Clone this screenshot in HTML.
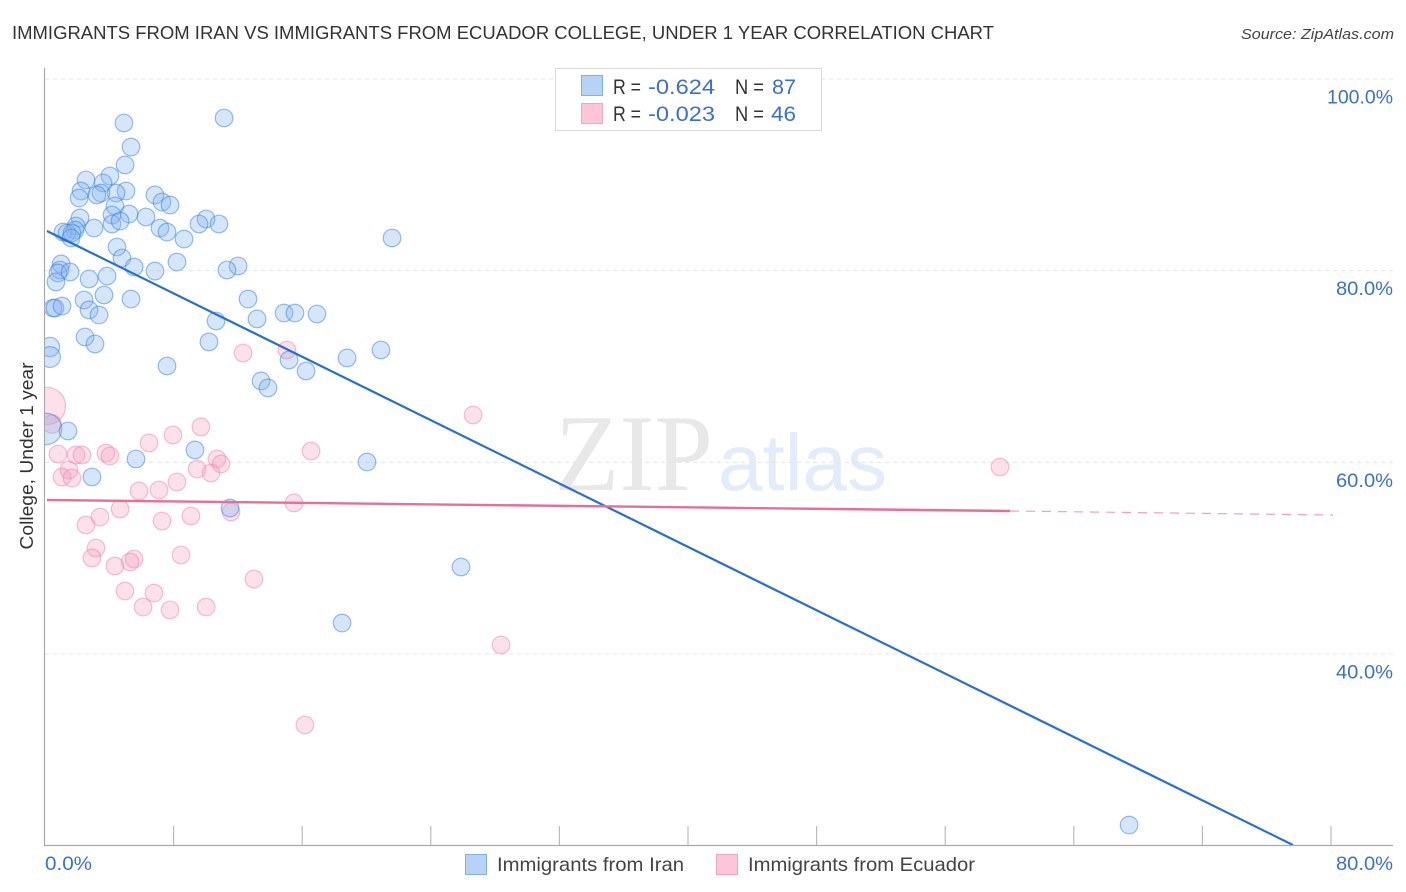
<!DOCTYPE html>
<html lang="en">
<head>
<meta charset="utf-8">
<title>Immigrants from Iran vs Immigrants from Ecuador College, Under 1 Year Correlation Chart</title>
<style>
html,body{margin:0;padding:0;background:#fff;width:1406px;height:892px;overflow:hidden}
svg{display:block;font-family:"Liberation Sans",sans-serif}
</style>
</head>
<body>
<svg id="chart" xmlns="http://www.w3.org/2000/svg" width="1406" height="892" viewBox="0 0 1406 892">
  <defs>
    <clipPath id="plot-clip"><rect x="45" y="60" width="1350" height="785"/></clipPath>
  </defs>
  <text x="12" y="39" font-size="18.6" fill="#333" textLength="982" lengthAdjust="spacingAndGlyphs">IMMIGRANTS FROM IRAN VS IMMIGRANTS FROM ECUADOR COLLEGE, UNDER 1 YEAR CORRELATION CHART</text>
  <text x="1241" y="39" font-size="15" font-style="italic" fill="#444" textLength="153" lengthAdjust="spacingAndGlyphs">Source: ZipAtlas.com</text>
  <g>
    <text x="555" y="490" font-family="'Liberation Serif',serif" font-size="109" fill="#e8e8e8" textLength="158" lengthAdjust="spacingAndGlyphs">ZIP</text>
    <text x="718" y="490" font-size="80" fill="#e2ecfa" textLength="169" lengthAdjust="spacingAndGlyphs">atlas</text>
  </g>
  <g id="grid"></g>
  <g id="points-ecuador" clip-path="url(#plot-clip)"></g>
  <g id="points-iran" clip-path="url(#plot-clip)"></g>
  <g id="trends"></g>
  <g id="axes"></g>
  <text transform="translate(33,456) rotate(-90)" text-anchor="middle" font-size="18.5" fill="#333" textLength="187" lengthAdjust="spacingAndGlyphs">College, Under 1 year</text>

  <g>
    <rect x="555.5" y="68.5" width="266" height="62" fill="#fff" stroke="#d9d9d9" stroke-width="1"/>
    <rect x="581.5" y="75.5" width="21" height="20" fill="#b7d2f7" stroke="#7fb0ec"/>
    <rect x="581.5" y="103.5" width="21" height="20" fill="#fcc5d8" stroke="#f2a5bf"/>
    <g font-size="21">
      <text x="613" y="94" fill="#333" textLength="28" lengthAdjust="spacingAndGlyphs">R =</text>
      <text x="648" y="94" fill="#3a70d2" textLength="67" lengthAdjust="spacingAndGlyphs">-0.624</text>
      <text x="735" y="94" fill="#333" textLength="29" lengthAdjust="spacingAndGlyphs">N =</text>
      <text x="772" y="94" fill="#3a70d2" textLength="24" lengthAdjust="spacingAndGlyphs">87</text>
      <text x="613" y="121" fill="#333" textLength="28" lengthAdjust="spacingAndGlyphs">R =</text>
      <text x="648" y="121" fill="#3a70d2" textLength="67" lengthAdjust="spacingAndGlyphs">-0.023</text>
      <text x="735" y="121" fill="#333" textLength="29" lengthAdjust="spacingAndGlyphs">N =</text>
      <text x="771" y="121" fill="#3a70d2" textLength="25" lengthAdjust="spacingAndGlyphs">46</text>
    </g>
  </g>

  <g>
    <g>
      <rect x="465.5" y="854.5" width="21" height="20" fill="#b7d2f7" stroke="#7fb0ec"/>
      <text x="497" y="871" font-size="19.5" fill="#444" textLength="187" lengthAdjust="spacingAndGlyphs">Immigrants from Iran</text>
    </g>
    <g>
      <rect x="716.5" y="854.5" width="21" height="20" fill="#fcc5d8" stroke="#f2a5bf"/>
      <text x="748" y="871" font-size="19.5" fill="#444" textLength="227" lengthAdjust="spacingAndGlyphs">Immigrants from Ecuador</text>
    </g>
  </g>
</svg>
<script>
const iranX = [4.91,11.14,5.35,4.98,4.04,2.55,3.61,2.24,5.04,4.42,3.48,3.23,2.12,6.84,7.28,7.78,4.35,5.23,6.28,2.18,4.17,4.17,4.67,10.02,9.58,10.82,7.15,7.59,8.65,3.05,1.93,1.87,1.12,1.37,1.68,1.62,4.48,21.59,4.79,8.21,5.54,6.84,12.01,11.32,1.00,0.93,0.81,1.56,0.68,2.74,3.86,2.43,3.67,5.35,12.63,0.50,0.62,1.06,2.74,3.36,14.87,15.55,16.92,10.64,13.19,2.49,3.11,10.20,0.31,0.31,20.90,18.79,15.18,7.59,16.24,13.44,13.87,0.06,1.43,9.33,5.66,20.03,2.92,11.51,25.88,18.48,67.44];
const iranY = [95.41,95.93,92.90,91.03,89.88,89.46,89.15,88.31,88.31,88.10,88.10,87.90,87.58,87.90,87.16,86.85,86.75,85.91,85.60,85.50,85.81,84.87,85.18,85.39,84.87,84.87,84.45,84.03,83.30,84.45,84.66,84.24,84.03,83.93,83.93,83.41,82.47,83.41,81.32,80.90,80.38,79.96,80.49,80.07,80.70,80.07,79.76,79.86,78.82,79.13,79.44,76.94,77.46,77.04,77.04,76.10,76.10,76.31,75.90,75.37,75.58,75.58,75.48,74.75,74.96,73.08,72.35,72.56,72.03,70.99,71.72,70.89,70.68,70.05,69.53,68.49,67.76,63.48,63.27,61.29,60.35,60.03,58.47,55.23,49.08,43.23,22.15];
const iranHeavyIndex = [68,69,77];
const iranHeavyWeight = [1.2,1.4,3.2];

const ecuadorX = [0.81,1.93,2.30,3.79,4.04,6.47,7.96,9.70,10.70,10.95,9.46,10.33,1.49,1.06,1.68,8.21,7.09,5.85,15.49,4.67,3.42,2.55,7.28,9.08,11.57,3.17,2.92,8.46,5.54,5.29,4.35,13.00,4.98,6.78,6.10,7.78,10.02,12.32,15.05,26.63,16.55,59.41,28.37,16.17,0.12,0.44];
const ecuadorY = [60.87,60.76,60.76,60.97,60.66,62.02,62.85,63.69,60.35,59.83,59.30,58.89,59.20,58.47,58.36,57.95,57.11,57.01,55.76,55.13,54.29,53.46,53.88,54.40,54.82,51.06,50.02,50.33,49.91,49.60,49.18,47.82,46.57,46.36,44.90,44.59,44.90,71.41,71.72,64.94,61.18,59.51,40.94,32.59,65.88,64.00];
const ecuadorHeavyIndex = [44,45];
const ecuadorHeavyWeight = [4.5,1.1];

const iranTrendX = [0.12,77.63];
const iranTrendY = [84.14,20.07];
const ecuadorTrendX = [0.12,60.03];
const ecuadorTrendY = [56.07,54.92];
const ecuadorForecastX = [60.03,80.13];
const ecuadorForecastY = [54.92,54.50];

const yTickValues = [100,80,60,40];
const yTickLabels = ["100.0%","80.0%","60.0%","40.0%"];
const xTickValues = [0,8,16,24,32,40,48,56,64,72,80];
const xEndLabels = ["0.0%","80.0%"];

const SVGNS = "http://www.w3.org/2000/svg";
function xScale(v){ return 45 + v * 16.075; }
function yScale(v){ return 79 + (100 - v) * 9.583; }
function labelWidth(s){ return s.length === 6 ? 66 : s.length === 5 ? 57 : 47; }
function make(tag, attrs, parent){
  const el = document.createElementNS(SVGNS, tag);
  for (const k in attrs) el.setAttribute(k, attrs[k]);
  parent.appendChild(el);
  return el;
}

const grid = document.getElementById("grid");
yTickValues.forEach(function(v){
  const g = make("line", {x1:45, x2:1393, y1:yScale(v), y2:yScale(v), stroke:"#e3e3e3", "stroke-width":1, "stroke-dasharray":"4 4"}, grid);
  
  
});

function drawPoints(group, xs, ys, heavyIdx, heavyW, fill, stroke, name){
  xs.forEach(function(x, i){
    const h = heavyIdx.indexOf(i);
    const w = h >= 0 ? heavyW[h] : 1;
    const c = make("circle", {cx:xScale(x), cy:yScale(ys[i]), r:8.8 * Math.sqrt(w), fill:fill, stroke:stroke, "stroke-width":1.2}, group);
    
    
  });
}
drawPoints(document.getElementById("points-ecuador"), ecuadorX, ecuadorY, ecuadorHeavyIndex, ecuadorHeavyWeight, "rgba(247,160,190,0.33)", "rgba(238,130,165,0.5)", "ecuador-point");
drawPoints(document.getElementById("points-iran"), iranX, iranY, iranHeavyIndex, iranHeavyWeight, "rgba(130,180,240,0.33)", "rgba(50,125,220,0.5)", "iran-point");

const trends = document.getElementById("trends");
function drawTrend(xs, ys, stroke, width, dash, name){
  const l = make("line", {x1:xScale(xs[0]), y1:yScale(ys[0]), x2:xScale(xs[1]), y2:yScale(ys[1]), stroke:stroke, "stroke-width":width}, trends);
  if (dash) l.setAttribute("stroke-dasharray", dash);
  
  
}
drawTrend(iranTrendX, iranTrendY, "#2470d8", 2.2, null, "iran-trend-line");
drawTrend(ecuadorTrendX, ecuadorTrendY, "#ec6c99", 2.4, null, "ecuador-trend-line");
drawTrend(ecuadorForecastX, ecuadorForecastY, "#f0a0bc", 1.2, "9 7", "ecuador-trend-forecast");

const axes = document.getElementById("axes");
const yAxis = make("line", {x1:44.5, x2:44.5, y1:68, y2:846, stroke:"#aaa", "stroke-width":1.2}, axes);


const xAxis = make("line", {x1:44, x2:1393, y1:845.5, y2:845.5, stroke:"#aaa", "stroke-width":1.2}, axes);


xTickValues.forEach(function(v){
  if (v === 0) return;
  const t = make("line", {x1:xScale(v), x2:xScale(v), y1:826, y2:845, stroke:"#bbb", "stroke-width":1.2}, axes);
  
  
});
yTickLabels.forEach(function(s, i){
  const t = make("text", {x:1393, y:yScale(yTickValues[i]) + 24.5, "text-anchor":"end", "font-size":19.5, fill:"#3a70d2", textLength:labelWidth(s), lengthAdjust:"spacingAndGlyphs"}, axes);
  t.textContent = s;
  
  
});
const x0 = make("text", {x:45, y:870, "font-size":19.5, fill:"#3a70d2", textLength:labelWidth(xEndLabels[0]), lengthAdjust:"spacingAndGlyphs"}, axes);
x0.textContent = xEndLabels[0];


const x1 = make("text", {x:1393, y:870, "text-anchor":"end", "font-size":19.5, fill:"#3a70d2", textLength:labelWidth(xEndLabels[1]), lengthAdjust:"spacingAndGlyphs"}, axes);
x1.textContent = xEndLabels[1];


</script>
</body>
</html>
